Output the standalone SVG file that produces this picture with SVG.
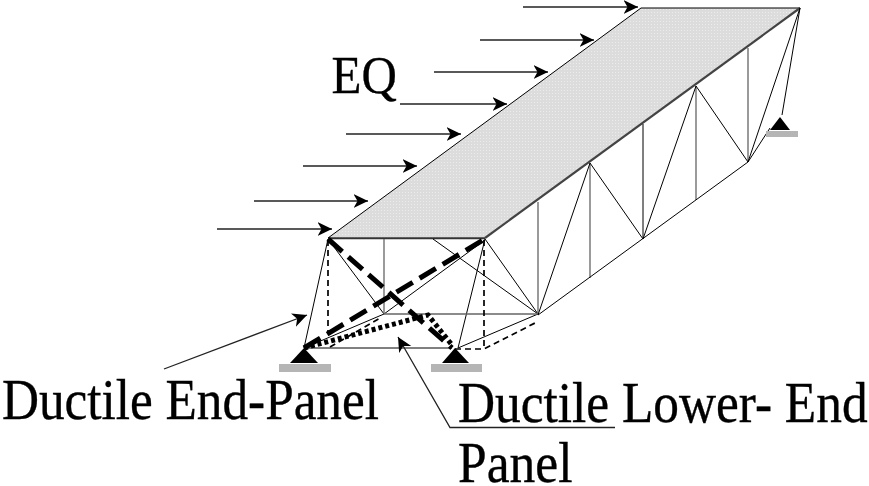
<svg xmlns="http://www.w3.org/2000/svg" width="869" height="486" viewBox="0 0 869 486">
<style>
.t{font-family:"Liberation Serif","Times New Roman",serif;fill:#000;stroke:#000;stroke-width:.35px;font-size:56px}
.m{stroke:#000;stroke-width:1;fill:none}
.g{stroke:#666;stroke-width:1.3;fill:none}
.a{stroke:#222;stroke-width:1.3;fill:none;marker-end:url(#ah)}
.d{stroke:#000;stroke-width:1.7;fill:none;stroke-dasharray:6 4}
.td{stroke:#000;stroke-width:5;fill:none;stroke-dasharray:19 8}
.tt{stroke:#000;stroke-width:5;fill:none;stroke-dasharray:4 3}
.base{fill:#b5b5b5}
</style>
<defs>
<pattern id="st" width="3" height="3" patternUnits="userSpaceOnUse"><rect width="3" height="3" fill="#dcdcdc"/><rect width="1" height="1" fill="#ececec"/></pattern>
<marker id="ah" markerUnits="userSpaceOnUse" markerWidth="16" markerHeight="16" refX="14.5" refY="8" orient="auto"><path d="M0 1L14.500 8L0 15L4 8Z" fill="#000"/></marker>
</defs>
<g id="deck">
<path d="M328 238L641 8L800 8L485 238Z" fill="url(#st)" stroke="#000" stroke-width="1"/>
<path d="M328 238.500H485" stroke="#333" stroke-width="1.600"/>
<path d="M485 238L800 8" stroke="#444" stroke-width="2.200"/>
</g>
<g id="truss">
<path class="m" d="M328 239L304 348M328 239L384 314M433 239L538 314M485 239L538 314M485 239L458 348M384 314L485 240M304 348L384 314M304 348L452 348M458 348L538 314"/>
<path class="g" d="M384 239V314M384 314H538M538 202V314M590 163V278M696 86V200M748 48V162"/>
<path class="m" d="M538 315L748 162M643 124V239M538 315L590 163L643 239L696 86L748 162L800 8L782 115M748 162L770 128"/>
<path class="d" d="M328 240V333M484 240V349M455 349H484L537 322M330 347L380 318"/>
</g>
<g id="support-left">
<path d="M304 348L318 363H290Z" fill="#000"/><rect class="base" x="279" y="364" width="52" height="8"/>
</g>
<g id="support-right">
<path d="M455 348L469 363H442Z" fill="#000"/><rect class="base" x="431" y="364" width="51" height="8"/>
</g>
<g id="support-far">
<path d="M780 117L790 130H770Z" fill="#000"/><rect class="base" x="766" y="131" width="32" height="6"/>
</g>
<g id="ductile-paths">
<path class="td" d="M328 239L452 348"/>
<path class="td" d="M304 348L483 240"/>
<path class="tt" d="M304 348L428 315L452 345"/>
</g>
<g id="connectors">
<path class="a" d="M523 7H638"/>
<path class="a" d="M480 40H594"/>
<path class="a" d="M434 72H548"/>
<path class="a" d="M400 104H507"/>
<path class="a" d="M346 134H461"/>
<path class="a" d="M303 166H417"/>
<path class="a" d="M254 201H368"/>
<path class="a" d="M217 229H332"/>
<path class="a" d="M164 369L307 315"/>
<path class="a" d="M615 427.500H450L398 337"/>
</g>
<g id="label-eq"><text class="t" style="font-size:53.500px" transform="translate(331.500 93) scale(.915 1)">EQ</text></g>
<g id="label-end-panel"><text class="t" transform="translate(2 419) scale(.915 1)">Ductile End-Panel</text></g>
<g id="label-lower-end">
<text class="t" transform="translate(458 421.500) scale(.917 1)">Ductile Lower- End</text>
<text class="t" transform="translate(458 481.500) scale(.92 1)">Panel</text>
</g>
</svg>
